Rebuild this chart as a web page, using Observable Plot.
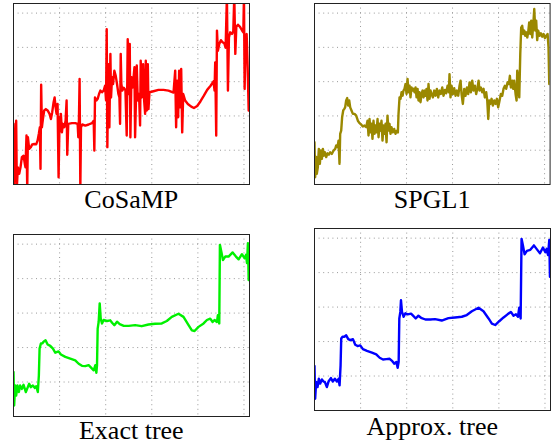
<!DOCTYPE html>
<html>
<head>
<meta charset="utf-8">
<script src="https://cdn.jsdelivr.net/npm/d3@7"></script>
<script src="https://cdn.jsdelivr.net/npm/@observablehq/plot@0.6"></script>
<style>
  html, body { margin: 0; padding: 0; background: #fff; }
  #root { position: relative; width: 553px; height: 445px; overflow: hidden; }
  .panel { position: absolute; }
  .title { position: absolute; text-align: center; font-family: "Liberation Serif", "Times New Roman", serif; font-size: 26px; line-height: 26px; color: #000; white-space: nowrap; }
</style>
</head>
<body>
<div id="root"></div>
<script>
// ---- Data ----
const titles = ["CoSaMP", "SPGL1", "Exact tree", "Approx. tree"];
const xTicks = [50, 100, 150, 200, 250];
const yTicks = [1, 2, 3, 4, 5];
const xDomain = [0, 256];
const yDomain = [0, 5.28];

const cosampX = [0,0.7,1.8,2.9,3.6,4.7,6.2,7.6,9.1,10.9,12.3,13,14.1,14.9,15.6,17,18.8,20.3,22.5,24.6,26.1,27.5,28.6,29.3,30,30.8,31.9,33.3,35.1,37,39.1,40.6,42,43.5,44.6,45.7,46.7,47.8,48.9,50,50.7,51.4,52.5,53.6,55.1,56.5,57.6,58.3,59.4,63.4,67,69.6,70.3,71,71.7,72.5,73.2,74.6,77.9,81.5,85.1,87,87.7,88.4,89.9,91.3,92.8,94.2,96,97.8,99.3,100.4,101.1,101.8,102.9,104,105.1,105.8,106.9,108,109.4,110.9,112.3,113.8,114.9,115.6,116.3,117,118.1,119.6,121.4,122.8,123.9,125,126.1,126.8,127.9,129.3,131.2,131.9,133.7,134.8,136.2,137.3,138,139.1,140.6,141.7,142.8,143.5,144.6,145.7,146.4,147.5,151.8,157.2,162.7,168.1,173.6,175.4,176.4,177.5,178.6,179.7,180.8,181.9,183,184.1,186.2,189.1,192.8,195.7,199.3,202.9,206.5,210.1,213.8,217,218.1,218.8,219.9,220.7,221.7,223.2,225,226.8,228.6,230.1,231.5,232.6,233.7,235.1,237,238.4,239.5,240.6,241.7,243.5,245.7,247.8,249.3,250,250.7,251.8,252.9,254,255.1];
const cosampY = [1.77,-0.1,0.89,1.86,-0.1,0.5,0.31,0.5,0.8,0.84,0.6,0.5,1.43,-0.1,1.38,1.04,1.09,1.17,1.18,1.17,1.28,1.48,1.67,0.46,2.91,1.67,1.91,2.16,2.2,2.16,2.06,1.91,2.11,2.4,2.54,2.25,2.06,2.35,0.21,1.96,1.57,2.06,1.52,1.77,1.67,1.86,2.45,0.87,1.77,1.79,1.79,1.77,1.38,1.91,3.08,-0.1,1.67,1.75,1.72,1.75,1.79,1.86,0.99,2.54,2.45,2.5,2.64,2.74,2.69,2.74,2.88,2.45,4.53,1.09,3.51,1.67,3.81,2.54,3.13,2.93,3.32,3.17,2.93,2.64,2.54,1.77,3.81,2.93,2.74,2.82,2.76,1.43,4.24,2.64,4.1,1.38,3.13,2.83,3.42,1.38,3.47,2.45,2.64,1.72,3.61,2.54,3.51,2.45,2.06,3.61,2.16,3.51,2.2,2.69,2.72,2.76,2.76,2.74,2.68,3.32,1.67,3.03,1.96,3.32,2.25,3.37,1.52,2.64,2.45,2.35,2.27,2.23,2.29,2.43,2.59,2.76,2.88,3.01,2.74,3.56,1.43,4.49,3.9,4.1,4.21,4.15,4.12,3.99,5.5,2.74,4.29,4.44,4.39,4.47,5.5,3.81,4.6,4.66,4.6,4.5,4.44,5.5,2.79,4.34,4.39,3.42,2.16];

const spglX = [0,0.7,1.8,2.5,3.6,4.7,5.8,6.9,8,9.1,10.1,11.2,12.7,14.1,15.6,17,18.8,20.7,22.5,23.6,25,26.1,27.2,27.9,29,30,31.2,32.2,33.3,34.4,35.5,36.6,37.7,38.8,40.2,41.7,43.5,45.3,47.1,48.9,50.7,52.5,54.3,56.2,57.6,58.7,59.8,60.9,62,63,64.1,65.2,66.3,67.4,68.5,69.6,70.7,71.7,72.8,73.9,75,76.1,77.2,78.3,79.3,80.4,81.5,82.6,83.7,85.1,86.6,88,89.5,90.6,91.3,92.4,93.5,94.6,95.7,96.7,97.8,98.9,100,101.1,102.2,103.3,104.3,105.4,106.5,107.6,108.7,109.8,110.9,112,113,114.1,115.2,116.3,117.4,118.5,119.6,120.7,121.7,122.8,123.9,125,126.1,127.2,128.6,130.1,131.5,133,134.4,135.9,137.3,138.8,140.2,141.7,143.1,144.6,146,146.7,147.8,148.9,150.4,151.8,153.3,154.7,156.2,157.6,158.7,159.8,161.2,162.7,164.1,165.6,167,168.5,169.9,171.4,172.8,174.3,175.7,177.2,178.3,179.3,180.8,182.2,183.7,185.1,186.6,187.7,188.8,189.9,191,192.4,193.8,195.3,196.7,198.2,199.6,201.1,202.5,204,205.4,206.9,208.3,209.8,211.2,212.3,213.4,214.9,215.9,217,218.5,219.6,220.3,221.4,222.5,223.6,224.6,225.7,226.8,227.9,229,230.1,231.2,232.2,233.3,234.4,235.5,236.6,237.7,238.8,239.9,240.9,242,243.1,244.6,246,247.5,248.9,250.4,251.8,253.3,254.3,255.1];
const spglY = [1.23,0.21,0.8,0.31,0.5,1.04,0.6,0.99,0.75,1.04,0.84,0.94,0.8,0.91,0.87,0.94,0.89,0.99,1.04,1.14,1.09,1.28,0.6,1.48,1.57,1.96,2.16,2.2,2.25,2.45,2.52,2.3,2.45,2.25,2.16,2.06,2.06,2.01,1.86,1.79,1.75,1.69,1.72,1.67,1.86,1.43,1.91,1.52,1.77,1.33,1.86,1.48,1.72,1.52,1.91,1.38,1.77,1.57,1.86,1.28,1.72,1.48,1.77,1.23,2.01,1.57,1.77,1.48,1.67,1.52,1.62,1.48,1.57,1.52,2.06,2.54,2.5,2.69,2.59,2.74,2.79,2.93,2.64,3.08,2.69,2.88,2.54,2.83,2.74,2.79,2.69,2.83,2.54,2.79,2.45,2.69,2.4,2.64,2.74,2.54,2.74,2.59,2.79,2.45,2.93,2.5,2.74,2.64,2.54,2.74,2.59,2.79,2.54,2.74,2.64,2.83,2.59,2.76,2.66,2.88,2.69,3.22,2.54,2.88,2.64,2.81,2.59,2.74,2.59,2.88,3.03,2.64,2.35,2.79,2.59,2.83,2.64,2.98,2.69,3.03,2.74,2.88,2.64,2.83,3.03,2.74,2.83,2.69,2.79,2.54,2.69,2.45,1.91,2.45,2.35,2.5,2.3,2.45,2.35,2.5,2.25,2.45,2.64,2.59,2.79,2.88,2.79,2.98,2.93,3.17,2.83,3.03,2.79,3.03,2.64,2.45,3.32,3.03,2.54,3.81,4.58,4.63,4.39,4.49,4.34,4.44,4.29,4.44,4.73,4.39,4.78,4.29,4.66,5.12,4.49,4.78,4.21,4.49,4.34,4.41,4.31,4.39,4.27,4.34,4.39,4.0,2.93];

const exactX = [0,0.7,1.8,2.9,4.3,5.8,7.2,9.1,10.9,13.4,15.2,17,18.8,21,23.2,24.6,26.4,27.5,28.3,29.7,31.2,32.6,34.8,37,39.9,42.8,45.3,48.9,51.4,56.2,61.6,67,70.7,74.3,77.9,81.5,84.4,87,88.8,89.9,90.6,91.3,92.4,93.5,94.6,96,97.8,101.4,105,106.9,109.4,112.3,115.2,119.6,125,131.9,139.1,146.4,153.6,160.9,166.3,171.7,179,184.4,189.9,193.5,196.4,200.7,206.2,209.8,213.4,216,218.1,220.7,221.7,223.2,223.9,225.4,227.2,229.7,233.3,237.7,241.3,244.2,247.8,250.7,252.2,253.3,254.3,255.1];
const exactY = [1.29,0.32,0.9,0.61,0.9,0.71,0.9,0.8,0.92,0.71,0.83,0.95,0.85,0.9,0.83,0.88,0.71,1.19,1.97,2.12,2.12,2.17,2.21,2.09,2.05,1.97,1.85,1.89,1.8,1.73,1.68,1.63,1.53,1.47,1.46,1.49,1.41,1.34,1.49,1.27,1.49,2.55,2.75,3.28,2.84,2.7,2.8,2.77,2.79,2.72,2.65,2.75,2.68,2.63,2.63,2.65,2.62,2.67,2.69,2.7,2.77,2.89,2.98,2.89,2.65,2.5,2.48,2.6,2.7,2.8,2.84,2.74,2.8,2.74,2.94,2.7,4.98,4.79,4.54,4.64,4.64,4.76,4.64,4.56,4.71,4.59,4.69,4.45,5.03,3.96];

const approxX = [0,0.7,1.8,3.3,4.7,6.2,8,9.8,11.2,13.4,15.2,17.8,19.9,22.1,24.3,26.1,27.2,28.3,29,30.4,32.2,34.4,36.6,38.8,41.7,44.2,46.7,49.6,52.5,56.9,62.3,67,70.7,74.3,77.9,81.5,84.4,86.6,88.8,90.2,91.3,92,93.1,93.8,94.9,96.7,98.6,101.1,104.7,106.9,109.8,112.7,115.6,120.3,125.7,130.8,138,145.3,152.5,159.8,165.2,170.7,177.9,183.3,188.8,192.4,196,200.4,205.1,209.4,213,215.9,218.5,220.7,222.1,223.6,224.6,226.1,227.9,230.4,234.1,238,241.7,244.6,247.8,250.4,251.8,253.3,254.7,255.4];
const approxY = [1.29,0.34,0.83,0.68,0.92,0.78,0.9,0.84,0.83,0.68,0.84,0.94,0.84,0.92,0.84,0.92,0.73,1.31,2.09,2.14,2.14,2.18,2.07,2.04,2.07,1.91,1.87,1.89,1.78,1.73,1.68,1.63,1.53,1.48,1.49,1.5,1.43,1.36,1.41,1.24,1.41,2.67,2.86,3.2,2.86,2.72,2.82,2.79,2.81,2.75,2.67,2.75,2.69,2.64,2.64,2.65,2.61,2.68,2.7,2.72,2.77,2.88,2.98,2.88,2.67,2.52,2.48,2.59,2.7,2.79,2.86,2.75,2.79,2.72,2.98,2.67,4.98,4.79,4.53,4.63,4.66,4.79,4.66,4.56,4.73,4.59,4.69,4.51,4.95,3.88];

// ---- Layout ----
const panels = [
  {xs: cosampX, ys: cosampY, color: "#ff0000", left: 13.3, top: 3,     w: 236,   h: 181, titleTop: 186.7},
  {xs: spglX,   ys: spglY,   color: "#9a8800", left: 314.3, top: 2.7,  w: 235.6, h: 181, titleTop: 186.7},
  {xs: exactX,  ys: exactY,  color: "#00f000", left: 13.3, top: 234,   w: 236,   h: 182, titleTop: 418.2},
  {xs: approxX, ys: approxY, color: "#0000ff", left: 314.3, top: 228.3, w: 236,  h: 182, titleTop: 413.7}
];

const root = document.getElementById("root");
const m = 2;
panels.forEach((p, i) => {
  const data = p.xs.map((x, k) => ({x, y: p.ys[k]}));
  const svg = Plot.plot({
    width: p.w + 2 * m,
    height: p.h + 2 * m,
    margin: m,
    x: {domain: xDomain, axis: null},
    y: {domain: yDomain, axis: null},
    marks: [
      Plot.ruleX(xTicks, {stroke: "#999", strokeWidth: 1, strokeDasharray: "1,3.6"}),
      Plot.ruleY(yTicks, {stroke: "#999", strokeWidth: 1, strokeDasharray: "1,3.6"}),
      Plot.line(data, {x: "x", y: "y", stroke: p.color, strokeWidth: 2.4, clip: true, curve: "linear"}),
      Plot.frame({stroke: "#222", strokeWidth: 1})
    ]
  });
  svg.classList.add("panel");
  svg.style.left = (p.left - m) + "px";
  svg.style.top = (p.top - m) + "px";
  svg.style.background = "transparent";
  root.appendChild(svg);

  const t = document.createElement("div");
  t.className = "title";
  t.textContent = titles[i];
  t.style.left = p.left + "px";
  t.style.width = p.w + "px";
  t.style.top = p.titleTop + "px";
  root.appendChild(t);
});
</script>
</body>
</html>
